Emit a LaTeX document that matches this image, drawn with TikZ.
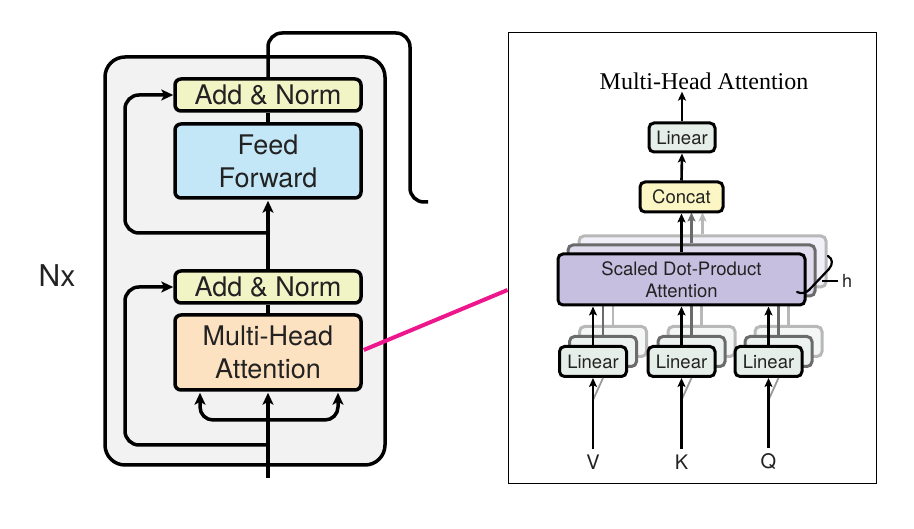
\documentclass[tikz,border=0pt]{standalone}
\usepackage{fontspec}
\setmainfont{TeX Gyre Heros}
\newfontfamily\titlefont{Liberation Serif}
\usetikzlibrary{arrows.meta,calc}
\definecolor{blockgray}{HTML}{F2F2F2}
\definecolor{addnorm}{HTML}{F1F4C4}
\definecolor{ffblue}{HTML}{C3E7F6}
\definecolor{mhapeach}{HTML}{FDE2C1}
\definecolor{hotpink}{RGB}{238,22,140}
\definecolor{linfill}{HTML}{E6EEEA}
\definecolor{concatfill}{HTML}{FCF6C4}
\definecolor{sdpafill}{HTML}{C6BFE0}
\definecolor{textc}{HTML}{222222}
\begin{document}
\begin{tikzpicture}[x=1pt,y=-1pt,
  lbox/.style={draw, line width=3.5pt, rounded corners=6pt, minimum width=186pt,
    text=textc, font=\fontsize{27}{33}\selectfont, align=center, inner sep=0pt},
  rbox/.style={draw, line width=3pt, rounded corners=5pt, text=textc,
    font=\fontsize{18.5}{22}\selectfont, align=center, inner sep=0pt},
  shadA/.style={draw=black!58, line width=3pt, fill=#1},
  shadB/.style={draw=black!28, line width=3pt, fill=#1},
  larr/.style={line width=3.5pt, -{Stealth[length=12pt,width=11pt,inset=3pt]}},
  lline/.style={line width=3.5pt},
  rarr/.style={line width=2.6pt, -{Stealth[length=9pt,width=8pt,inset=2pt]}},
  rline/.style={line width=2.6pt},
  inlabel/.style={text=textc, font=\fontsize{20}{24}\selectfont, inner sep=2pt},
]
\useasboundingbox (0,0) rectangle (914,529);

% ---------------- left: encoder block ----------------
\node[draw, line width=3.5pt, rounded corners=20pt, fill=blockgray,
      minimum width=280pt, minimum height=408pt] (block) at (245,261) {};
\node[lbox, fill=addnorm, minimum height=32pt] (an2) at (268,95) {Add \& Norm};
\node[lbox, fill=ffblue, minimum height=74pt] (ff) at (268,161) {Feed\\Forward};
\node[lbox, fill=addnorm, minimum height=32pt] (an1) at (268,287) {Add \& Norm};
\node[lbox, fill=mhapeach, minimum height=75pt] (mha) at (268,352.5) {Multi-Head\\Attention};
\node[text=textc, font=\fontsize{30}{34}\selectfont] (nx) at (57,276) {Nx};

\coordinate (in) at (268,478);
\coordinate (br) at (268,420);
\coordinate (r1) at (268,445);
\coordinate (r2) at (268,233);
\coordinate (lx) at (125,0);
\coordinate (outc) at (428,202);
\coordinate (topc) at (410,33);

\draw[larr, shorten >=1pt] (in) -- (mha.south);
\draw[larr, rounded corners=13pt, shorten >=1pt] (br) -| ([xshift=-68pt]mha.south);
\draw[larr, rounded corners=13pt, shorten >=1pt] (br) -| ([xshift=70pt]mha.south);
\draw[larr, rounded corners=14pt] (r1) -| (an1.west -| lx) -- (an1.west);
\draw[lline] (mha.north) -- (an1.south);
\draw[larr, shorten >=1pt] (an1.north) -- (ff.south);
\draw[larr, rounded corners=14pt] (r2) -| (an2.west -| lx) -- (an2.west);
\draw[lline] (ff.north) -- (an2.south);
\draw[lline, rounded corners=14pt] (an2.north) |- (topc) |- (outc);

% ---------------- right: multi-head attention ----------------
\node[draw, line width=1pt, minimum width=368pt, minimum height=451pt] (frame) at (692,258.5) {};
\draw[line width=4pt, hotpink] ([xshift=1pt]mha.east |- 0,350) -- (frame.west |- 0,290);

\node[font=\titlefont\fontsize{24}{28}\selectfont, text=black, inner sep=2pt] (title) at (704,81) {Multi-Head Attention};

% shadows of scaled dot-product attention
\node[rbox, shadB=sdpafill!25!white, minimum width=247pt, minimum height=51pt] (sdpa2) at (702.5,261.5) {};
\node[rbox, shadA=sdpafill!55!white, minimum width=247pt, minimum height=51pt] (sdpa1) at (691.5,270.5) {};

% shadows of linear layers
\foreach \n/\x in {v/593,k/681.5,q/768.5}{
  \node[rbox, shadB=linfill!45!white, minimum width=67pt, minimum height=30pt] (l\n2) at (\x+20,341.5) {};
  \node[rbox, shadA=linfill!75!white, minimum width=67pt, minimum height=30pt] (l\n1) at (\x+10,351.5) {};
}

% gray links between shadows
\foreach \n in {v,k,q}{
  \draw[rline, black!28] (l\n2.north) -- ++(0,-20);
  \draw[rline, black!58] (l\n1.north) -- ++(0,-30);
}
\draw[rarr, black!28] (sdpa2.north) -- ++(0,-22);
\draw[rarr, black!58] (sdpa1.north) -- ++(0,-31);

% main boxes
\node[rbox, fill=sdpafill, minimum width=247pt, minimum height=51pt] (sdpa) at (681.5,279.5) {Scaled Dot-Product\\Attention};
\node[rbox, fill=linfill, minimum width=67pt, minimum height=30pt] (lv) at (593,361.5) {Linear};
\node[rbox, fill=linfill, minimum width=67pt, minimum height=30pt] (lk) at (681.5,361.5) {Linear};
\node[rbox, fill=linfill, minimum width=67pt, minimum height=30pt] (lq) at (768.5,361.5) {Linear};
\node[rbox, fill=concatfill, minimum width=83pt, minimum height=30pt] (concat) at (681.5,197) {Concat};
\node[rbox, fill=linfill, minimum width=66pt, minimum height=29pt] (lt) at (682,137.5) {Linear};

% inputs
\node[inlabel] (v) at (593,462) {V};
\node[inlabel] (k) at (681.5,462) {K};
\node[inlabel] (q) at (768.5,462) {Q};

\foreach \n in {v,k,q}{
  \draw[line width=1.8pt, black!40] ([yshift=-22pt]l\n.south) -- ([xshift=10pt]l\n.south);
  \draw[rarr, shorten <=4pt] (\n.north) -- (l\n.south);
  \draw[rarr] (l\n.north) -- (l\n.north |- sdpa.south);
}
\draw[rarr] (sdpa.north) -- (concat.south);
\draw[rarr] (concat.north) -- (lt.south);
\draw[rarr] (lt.north) -- (lt.north |- title.south);

% h brace
\draw[line width=2.2pt, line cap=round] (828,256) .. controls (833,259) and (833,264) .. (829,269)
   -- (809,290) .. controls (806,293) and (801,294) .. (797,292);
\draw[line width=1.8pt] (822,281) -- (838,281);
\node[text=textc, font=\fontsize{18}{20}\selectfont, anchor=west, inner sep=0pt] (h) at (842,281) {h};
\end{tikzpicture}
\end{document}
